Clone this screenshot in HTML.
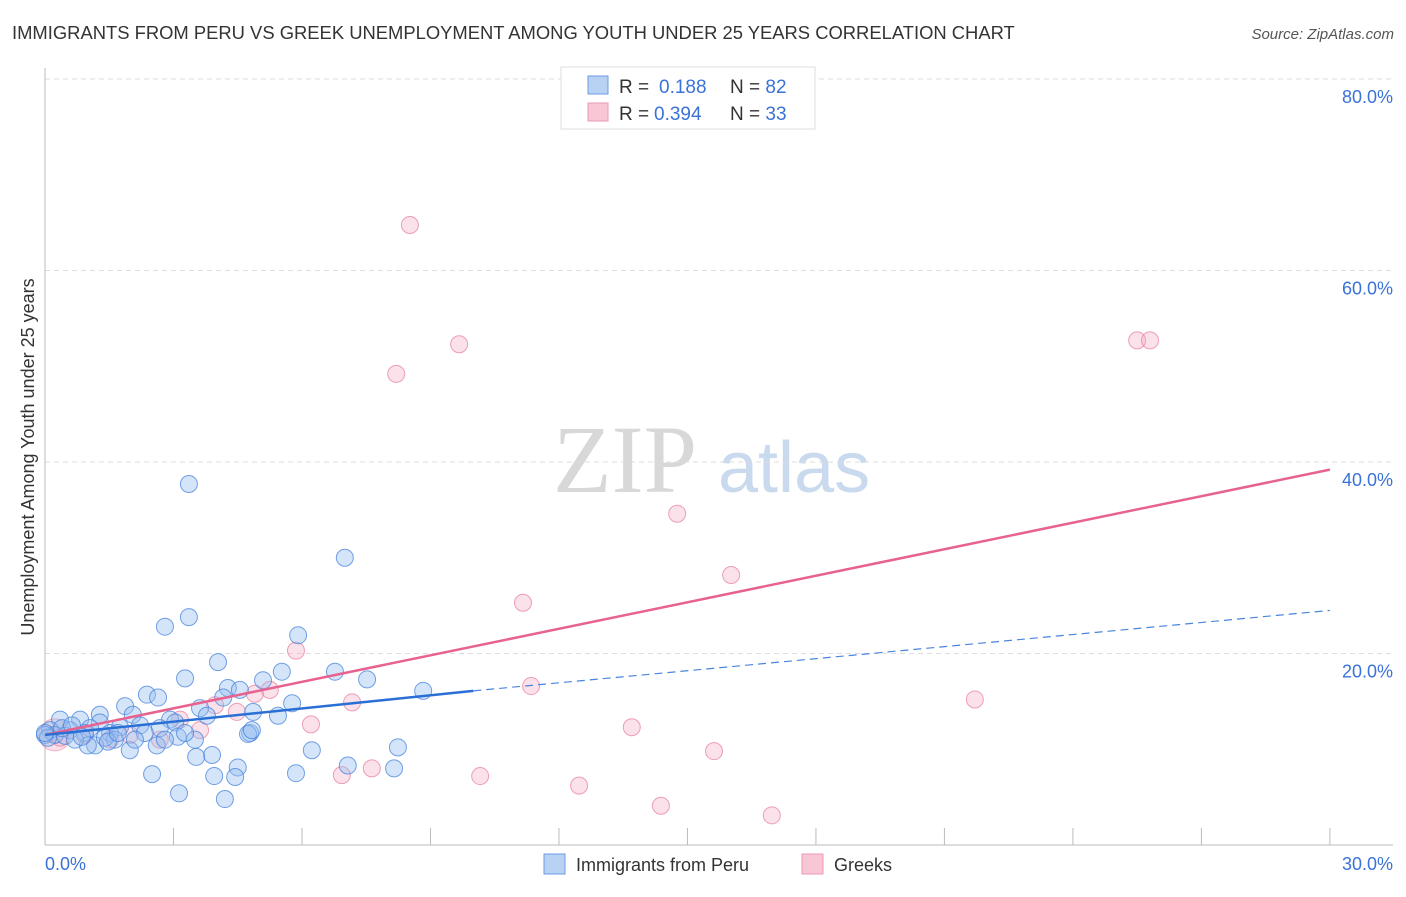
<!DOCTYPE html>
<html><head><meta charset="utf-8"><style>
body{margin:0;background:#fff;font-family:"Liberation Sans",sans-serif;}
</style></head><body>
<svg width="1406" height="892" xmlns="http://www.w3.org/2000/svg">
<text x="12" y="39" font-size="18.4" fill="#333">IMMIGRANTS FROM PERU VS GREEK UNEMPLOYMENT AMONG YOUTH UNDER 25 YEARS CORRELATION CHART</text>
<text x="1394" y="39" font-size="15" fill="#555" font-style="italic" text-anchor="end">Source: ZipAtlas.com</text>
<g>
<text x="553" y="492" font-size="96" font-family="Liberation Serif,serif" fill="#d8d8d8">ZIP</text>
<text x="718" y="492" font-size="72" fill="#c9d9ee">atlas</text>
</g>
<g id="grid"></g>
<g id="axes"></g>
<g id="marks"></g>
<text transform="translate(34,457) rotate(-90)" font-size="18" fill="#333" text-anchor="middle">Unemployment Among Youth under 25 years</text>
<g>
<rect x="561" y="67" width="254" height="62" fill="#fff" stroke="#ddd"/>
<rect x="588" y="76" width="20" height="18" fill="#b8d2f4" stroke="#6b9be0"/>
<rect x="588" y="103" width="20" height="18" fill="#f8c6d4" stroke="#eb9ab2"/>
<text x="619" y="93" font-size="19" fill="#333">R = <tspan fill="#3a72d8" x="659">0.188</tspan><tspan x="730">N = </tspan><tspan fill="#3a72d8">82</tspan></text>
<text x="619" y="120" font-size="19" fill="#333">R = <tspan fill="#3a72d8" x="654">0.394</tspan><tspan x="730">N = </tspan><tspan fill="#3a72d8">33</tspan></text>
</g>
<g>
<rect x="544" y="854" width="21" height="20" fill="#b8d2f4" stroke="#6b9be0"/>
<text x="576" y="871" font-size="18" fill="#333">Immigrants from Peru</text>
<rect x="802" y="854" width="21" height="20" fill="#f8c6d4" stroke="#eb9ab2"/>
<text x="834" y="871" font-size="18" fill="#333">Greeks</text>
</g>
</svg>
<script>
const blueX=[3.36,7.0,3.36,2.8,5.91,4.04,6.77,5.53,3.27,5.09,7.52,8.83,2.38,2.64,4.27,4.55,4.16,1.87,3.62,5.77,4.86,3.78,5.44,2.05,1.28,0.35,0.82,1.28,2.92,3.04,2.22,1.75,2.68,1.05,0.58,0.12,0.23,0.47,0.93,1.52,2.33,3.1,3.5,4.79,4.74,4.83,1.63,1.17,1.98,1.0,2.61,3.9,3.53,6.23,8.24,7.07,8.15,4.5,2.5,3.95,4.44,5.86,3.13,4.2,0.0,0.07,0.0,0.4,0.63,1.4,1.47,0.7,0.86,1.7,2.1,2.8,3.27];
const blueY=[37.7,30.0,23.8,22.8,21.9,19.1,18.1,18.1,17.4,17.2,17.3,16.1,15.7,15.4,16.4,16.2,15.4,14.5,14.3,14.8,13.9,13.5,13.5,13.6,13.6,13.1,13.1,12.8,13.1,12.8,12.5,12.3,12.2,12.2,12.0,12.0,11.5,11.4,11.7,11.7,11.7,11.3,11.0,11.7,11.6,12.0,11.0,10.4,9.9,10.4,10.4,9.4,9.2,9.9,10.2,8.3,8.0,8.1,7.4,7.2,7.1,7.5,5.4,4.8,11.5,11.2,11.7,12.2,12.5,11.2,10.8,11.0,11.3,11.7,11.0,11.0,11.7];
const pinkX=[8.52,9.67,8.2,25.5,25.8,14.76,16.02,11.16,5.86,11.35,5.25,7.17,21.71,4.48,4.9,6.21,13.7,15.62,7.63,6.93,10.16,12.47,14.38,16.97,0.23,3.15,3.62,2.68,1.52,0.93,1.98,3.97,0.35];
const pinkY=[64.75,52.3,49.2,52.7,52.7,34.6,28.2,25.3,20.3,16.6,16.2,14.9,15.2,13.9,15.8,12.6,12.3,9.8,8.0,7.3,7.2,6.2,4.1,3.1,11.5,13.1,12.0,11.0,11.0,11.5,11.5,14.6,11.2];
const yTicks=[20,40,60,80];
const yTickLabels=["20.0%","40.0%","60.0%","80.0%"];
const xTicks=[0,3,6,9,12,15,18,21,24,27,30];
const pinkLine=[0,11.5,30,39.2];
const blueLine=[0,11.5,10,16.1,30,24.5];
const NS="http://www.w3.org/2000/svg";
const sx=v=>45+v*42.83, sy=v=>845-v*9.575;
function mk(p,t,a){const e=document.createElementNS(NS,t);for(const k in a)e.setAttribute(k,a[k]);document.getElementById(p).appendChild(e);return e;}
yTicks.forEach((t,i)=>{
 const g=mk('grid','line',{x1:45,x2:1393,y1:sy(t),y2:sy(t),stroke:'#ddd','stroke-dasharray':'5,4'});
 
 
 const l=mk('axes','text',{x:1393,y:sy(t)+24,'font-size':18,fill:'#3a72d8','text-anchor':'end'});
 l.textContent=yTickLabels[i];
 
 
});
const ax=mk('axes','line',{x1:45,x2:1393,y1:845,y2:845,stroke:'#bbb'});


const ay=mk('axes','line',{x1:45,x2:45,y1:68,y2:845,stroke:'#bbb'});


xTicks.forEach(t=>{const e=mk('axes','line',{x1:sx(t),x2:sx(t),y1:828,y2:845,stroke:'#bbb'});
 
 });
const x0=mk('axes','text',{x:45,y:870,'font-size':18,fill:'#3a72d8'});x0.textContent='0.0%';


const x1=mk('axes','text',{x:1393,y:870,'font-size':18,fill:'#3a72d8','text-anchor':'end'});x1.textContent='30.0%';


const big=mk('marks','circle',{cx:sx(pinkX[24]),cy:sy(pinkY[24]),r:16,fill:'rgba(244,170,192,0.35)',stroke:'rgba(232,130,160,0.6)'});


pinkX.forEach((x,i)=>{const c=mk('marks','circle',{cx:sx(x),cy:sy(pinkY[i]),r:8.5,fill:'rgba(244,170,192,0.35)',stroke:'rgba(232,130,160,0.75)'});
 
 });
blueX.forEach((x,i)=>{const c=mk('marks','circle',{cx:sx(x),cy:sy(blueY[i]),r:8.5,fill:'rgba(150,190,240,0.4)',stroke:'rgba(70,130,220,0.75)'});
 
 });
const pl=mk('marks','line',{x1:sx(pinkLine[0]),y1:sy(pinkLine[1]),x2:sx(pinkLine[2]),y2:sy(pinkLine[3]),stroke:'#e8628f','stroke-width':2.5});


const bl=mk('marks','line',{x1:sx(blueLine[0]),y1:sy(blueLine[1]),x2:sx(blueLine[2]),y2:sy(blueLine[3]),stroke:'#2a6fd6','stroke-width':2.5});


const bd=mk('marks','line',{x1:sx(blueLine[2]),y1:sy(blueLine[3]),x2:sx(blueLine[4]),y2:sy(blueLine[5]),stroke:'#4a85dd','stroke-width':1.2,'stroke-dasharray':'8,5'});


</script>
</body></html>
